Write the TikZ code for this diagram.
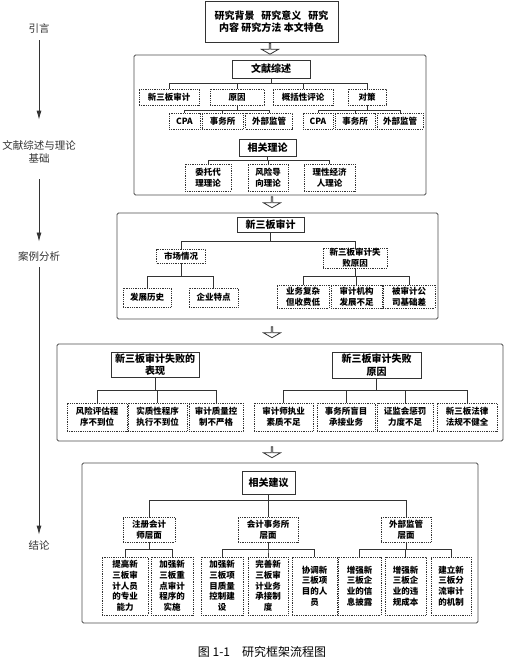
\documentclass[tikz,border=0pt]{standalone}
\usepackage{fontspec}
\setmainfont{Noto Sans CJK SC}
\usetikzlibrary{shapes,arrows.meta,positioning}

\newcommand\headfont{\bfseries\fontsize{10}{12.5}\selectfont}
\newcommand\itemfont{\bfseries\fontsize{8.5}{10.7}\selectfont}
\newcommand\sidefont{\fontsize{10.5}{13}\selectfont}

\begin{document}
\begin{tikzpicture}[
    x=1pt, y=-1pt,
    frame/.style={
        rectangle,
        draw=black!70,
        line width=0.9pt,
        rounded corners=1.5pt,
        inner sep=0pt
    },
    headbox/.style={
        rectangle,
        draw=black!80,
        line width=1pt,
        align=center,
        inner sep=0pt,
        font=\headfont
    },
    itembox/.style={
        rectangle,
        draw=black!80,
        densely dotted,
        line width=0.8pt,
        align=center,
        inner sep=0pt,
        font=\itemfont
    },
    sidelabel/.style={align=center, text=black!80, font=\sidefont},
    hollow arrow/.style={
        single arrow,
        draw=black!80,
        line width=0.8pt,
        fill=white,
        shape border rotate=270,
        minimum height=11pt,
        minimum width=17pt,
        single arrow head extend=4.5pt,
        single arrow head indent=0pt,
        single arrow tip angle=120,
        inner sep=0pt
    },
    line/.style={draw=black!80, line width=0.9pt},
    side line/.style={draw=black!80, line width=0.8pt, -{Latex[length=9pt,width=5pt]}}
]
\useasboundingbox (0,0) rectangle (507,662);

% Frames
\node [frame, minimum width=292pt, minimum height=140pt] (frame1) at (280,125) {};
\node [frame, minimum width=321pt, minimum height=106pt] (frame2) at (277.5,266) {};
\node [frame, minimum width=446pt, minimum height=97pt] (frame3) at (280,392.5) {};
\node [frame, minimum width=396pt, minimum height=160pt] (frame4) at (280,543) {};

% Intro block
\node [headbox, minimum width=133pt, minimum height=41pt] (intro) at (271.5,21.5)
    {研究背景\ \ \ 研究意义\ \ \ 研究\\内容 研究方法 本文特色};

% Hollow arrows between stages
\node [hollow arrow] (step1) at (270,48.5) {};
\node [hollow arrow] (step2) at (272,202) {};
\node [hollow arrow] (step3) at (272,332) {};
\node [hollow arrow] (step4) at (272,452) {};

% Literature review
\node [headbox, minimum width=78pt, minimum height=18pt] (lit) at (271,69) {文献综述};
\node [itembox, minimum width=60pt, minimum height=16pt] (audit) at (169,97) {新三板审计};
\node [itembox, minimum width=54pt, minimum height=16pt] (cause) at (237,97) {原因};
\node [itembox, minimum width=60pt, minimum height=16pt] (review) at (303,97) {概括性评论};
\node [itembox, minimum width=38pt, minimum height=16pt] (measure) at (367,97) {对策};

\node [itembox, minimum width=31pt, minimum height=16pt] (causecpa) at (184.5,121) {CPA};
\node [itembox, minimum width=41pt, minimum height=16pt] (causefirm) at (222.5,121) {事务所};
\node [itembox, minimum width=47pt, minimum height=16pt] (causesup) at (269,121) {外部监管};
\node [itembox, minimum width=30pt, minimum height=16pt] (measurecpa) at (318,121) {CPA};
\node [itembox, minimum width=40pt, minimum height=16pt] (measurefirm) at (355,121) {事务所};
\node [itembox, minimum width=46pt, minimum height=16pt] (measuresup) at (400,121) {外部监管};

% Related theory
\node [headbox, minimum width=57pt, minimum height=17pt] (theory) at (267.5,147.5) {相关理论};
\node [itembox, minimum width=46pt, minimum height=27pt] (agency) at (208,177.5) {委托代\\理理论};
\node [itembox, minimum width=40pt, minimum height=27pt] (risk) at (268,177.5) {风险导\\向理论};
\node [itembox, minimum width=51pt, minimum height=27pt] (rational) at (329.5,177.5) {理性经济\\人理论};

% Case analysis
\node [headbox, minimum width=67pt, minimum height=15pt] (case) at (270.5,224.5) {新三板审计};
\node [itembox, minimum width=49pt, minimum height=14pt] (market) at (181,256) {市场情况};
\node [itembox, minimum width=64pt, minimum height=20pt] (failcause) at (355,258) {新三板审计失\\败原因};
\node [itembox, minimum width=48pt, minimum height=19pt] (history) at (147,297.5) {发展历史};
\node [itembox, minimum width=49pt, minimum height=19pt] (feature) at (213.5,297.5) {企业特点};
\node [itembox, minimum width=52pt, minimum height=23pt] (complex) at (303,296.5) {业务复杂\\但收费低};
\node [itembox, minimum width=51pt, minimum height=23pt] (agencydev) at (356.5,296.5) {审计机构\\发展不足};
\node [itembox, minimum width=52pt, minimum height=23pt] (client) at (409,296.5) {被审计公\\司基础差};

% Failure: signs and causes
\node [headbox, minimum width=88pt, minimum height=25pt] (signs) at (155,364.5) {新三板审计失败的\\表现};
\node [headbox, minimum width=89pt, minimum height=26pt] (reasons) at (376.5,365) {新三板审计失败\\原因};
\node [itembox, minimum width=60pt, minimum height=28pt] (signa) at (97,417) {风险评估程\\序不到位};
\node [itembox, minimum width=59pt, minimum height=28pt] (signb) at (157.5,417) {实质性程序\\执行不到位};
\node [itembox, minimum width=54pt, minimum height=28pt] (signc) at (216,417) {审计质量控\\制不严格};
\node [itembox, minimum width=59pt, minimum height=28pt] (reasona) at (283.5,417) {审计师执业\\素质不足};
\node [itembox, minimum width=58pt, minimum height=28pt] (reasonb) at (346,417) {事务所盲目\\承接业务};
\node [itembox, minimum width=56pt, minimum height=28pt] (reasonc) at (405,417) {证监会惩罚\\力度不足};
\node [itembox, minimum width=60pt, minimum height=28pt] (reasond) at (467,417) {新三板法律\\法规不健全};

% Suggestions
\node [headbox, minimum width=53pt, minimum height=23pt] (advice) at (268.5,482.5) {相关建议};
\node [itembox, minimum width=52pt, minimum height=25pt] (cpalevel) at (149,529.5) {注册会计\\师层面};
\node [itembox, minimum width=60pt, minimum height=25pt] (firmlevel) at (268,529.5) {会计事务所\\层面};
\node [itembox, minimum width=50pt, minimum height=25pt] (suplevel) at (406,529.5) {外部监管\\层面};

\node [itembox, minimum width=46pt, minimum height=58pt] (cpaa) at (125,586) {提高新\\三板审\\计人员\\的专业\\能力};
\node [itembox, minimum width=42pt, minimum height=58pt] (cpab) at (172,586) {加强新\\三板重\\点审计\\程序的\\实施};
\node [itembox, minimum width=42pt, minimum height=58pt] (firma) at (222,586) {加强新\\三板项\\目质量\\控制建\\设};
\node [itembox, minimum width=40pt, minimum height=58pt] (firmb) at (268,586) {完善新\\三板审\\计业务\\承接制\\度};
\node [itembox, minimum width=45pt, minimum height=58pt] (firmc) at (314.5,586) {协调新\\三板项\\目的人\\员};
\node [itembox, minimum width=43pt, minimum height=58pt] (supa) at (359.5,586) {增强新\\三板企\\业的信\\息披露};
\node [itembox, minimum width=41pt, minimum height=58pt] (supb) at (405.5,586) {增强新\\三板企\\业的违\\规成本};
\node [itembox, minimum width=40pt, minimum height=58pt] (supc) at (451,586) {建立新\\三板分\\流审计\\的机制};

% Side stages
\node [sidelabel] (introlabel) at (39,28) {引言};
\node [sidelabel] (litlabel) at (39,151.5) {文献综述与理论\\基础};
\node [sidelabel] (caselabel) at (39,256) {案例分析};
\node [sidelabel] (endlabel) at (39,545) {结论};

% Caption
\node [font=\fontsize{12}{14}\selectfont] (caption) at (262,652) {图 1-1\quad 研究框架流程图};

% Connections
\draw [line] (lit.south) -- ++(0,5) -| (audit.north);
\draw [line] (lit.south) -- ++(0,5) -| (cause.north);
\draw [line] (lit.south) -- ++(0,5) -| (review.north);
\draw [line] (lit.south) -- ++(0,5) -| (measure.north);
\draw [line] (cause.south) -- ++(0,5) -| (causecpa.north);
\draw [line] (cause.south) -- ++(0,5) -| (causefirm.north);
\draw [line] (cause.south) -- ++(0,5) -| (causesup.north);
\draw [line] (measure.south) -- ++(0,5) -| (measurecpa.north);
\draw [line] (measure.south) -- ++(0,5) -| (measurefirm.north);
\draw [line] (measure.south) -- ++(0,5) -| (measuresup.north);
\draw [line] (theory.south) -- ++(0,4) -| (agency.north);
\draw [line] (theory.south) -- ++(0,4) -| (risk.north);
\draw [line] (theory.south) -- ++(0,4) -| (rational.north);

\draw [line] (case.south) -- ++(0,9) -| (market.north);
\draw [line] (case.south) -- ++(0,9) -| (failcause.north);
\draw [line] (market.south) -- ++(0,13) -| (history.north);
\draw [line] (market.south) -- ++(0,13) -| (feature.north);
\draw [line] (failcause.south) -- ++(0,8) -| (complex.north);
\draw [line] (failcause.south) -- ++(0,8) -| (agencydev.north);
\draw [line] (failcause.south) -- ++(0,8) -| (client.north);

\draw [line] (signs.south) -- ++(0,13) -| (signa.north);
\draw [line] (signs.south) -- ++(0,13) -| (signb.north);
\draw [line] (signs.south) -- ++(0,13) -| (signc.north);
\draw [line] (reasons.south) -- ++(0,12) -| (reasona.north);
\draw [line] (reasons.south) -- ++(0,12) -| (reasonb.north);
\draw [line] (reasons.south) -- ++(0,12) -| (reasonc.north);
\draw [line] (reasons.south) -- ++(0,12) -| (reasond.north);

\draw [line] (advice.south) -- ++(0,6) -| (cpalevel.north);
\draw [line] (advice.south) -- ++(0,6) -| (firmlevel.north);
\draw [line] (advice.south) -- ++(0,6) -| (suplevel.north);
\draw [line] (cpalevel.south) -- ++(0,7) -| (cpaa.north);
\draw [line] (cpalevel.south) -- ++(0,7) -| (cpab.north);
\draw [line] (firmlevel.south) -- ++(0,7) -| (firma.north);
\draw [line] (firmlevel.south) -- ++(0,7) -| (firmb.north);
\draw [line] (firmlevel.south) -- ++(0,7) -| (firmc.north);
\draw [line] (suplevel.south) -- ++(0,7) -| (supa.north);
\draw [line] (suplevel.south) -- ++(0,7) -| (supb.north);
\draw [line] (suplevel.south) -- ++(0,7) -| (supc.north);

% Stage axis
\draw [side line, shorten <=4pt, shorten >=17pt] (introlabel) -- (litlabel);
\draw [side line, shorten <=13pt, shorten >=6pt] (litlabel) -- (caselabel);
\draw [side line, shorten <=3pt, shorten >=2pt] (caselabel) -- (endlabel);

\end{tikzpicture}
\end{document}
